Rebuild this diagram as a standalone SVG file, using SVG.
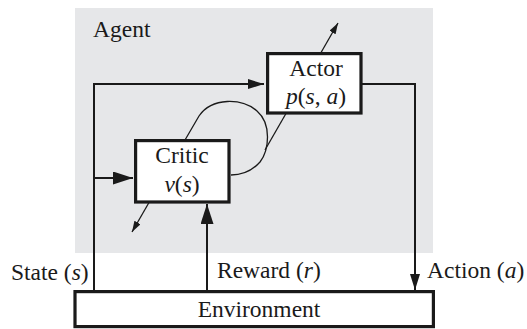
<svg xmlns="http://www.w3.org/2000/svg" width="527" height="329" viewBox="0 0 527 329">
  <defs>
    <marker id="head" viewBox="0 0 16 10" refX="16" refY="5" markerWidth="16" markerHeight="10" markerUnits="userSpaceOnUse" orient="auto">
      <path d="M0,0 L16,5 L0,10 Z" fill="#1a1a1a"/>
    </marker>
    <marker id="headBig" viewBox="0 0 20 13" refX="20" refY="6.5" markerWidth="20" markerHeight="13" markerUnits="userSpaceOnUse" orient="auto">
      <path d="M0,0 L20,6.5 L0,13 Z" fill="#1a1a1a"/>
    </marker>
    <marker id="headSmall" viewBox="0 0 11 7" refX="11" refY="3.5" markerWidth="11" markerHeight="7" markerUnits="userSpaceOnUse" orient="auto">
      <path d="M0,0 L11,3.5 L0,7 Z" fill="#1a1a1a"/>
    </marker>
  </defs>
  <style>
    text { font-family: "Liberation Serif", "Times New Roman", serif; font-size: 23.5px; fill: #1a1a1a; }
    .it { font-style: italic; }
    .mid { text-anchor: middle; }
    .box { fill: #ffffff; stroke: #1a1a1a; stroke-width: 3.2; }
    .wire { fill: none; stroke: #1a1a1a; stroke-width: 2; }
    .thin { fill: none; stroke: #1a1a1a; stroke-width: 1.3; }
  </style>

  <!-- agent region -->
  <rect x="75" y="8" width="358" height="245" fill="#e6e7e9"/>
  <text x="93" y="37">Agent</text>

  <!-- connectors -->
  <g id="connectors">
    <!-- state feeding actor and critic -->
    <polyline class="wire" points="94,291 94,84 264,84" marker-end="url(#head)"/>
    <line class="wire" x1="94" y1="178" x2="133" y2="178" marker-end="url(#headBig)"/>
    <!-- reward into critic -->
    <line class="wire" x1="207" y1="291" x2="207" y2="204" marker-end="url(#headBig)"/>
    <!-- action to environment -->
    <polyline class="wire" points="362,84 415,84 415,290" marker-end="url(#head)"/>
    <!-- critic weight line and TD error loop -->
    <line class="thin" x1="185" y1="140" x2="132" y2="232" marker-end="url(#headSmall)"/>
    <path class="thin" d="M185,140 L199,116 C212,97 242,98 257,111 C272,124 269,150 260,162 C252,171 243,175 231,175"/>
    <!-- actor weight line -->
    <line class="thin" x1="265" y1="150" x2="338" y2="23" marker-end="url(#headSmall)"/>
  </g>

  <g id="actor">
    <rect class="box" x="267.6" y="53.6" width="93.4" height="59.4"/>
    <text class="mid" x="316" y="76">Actor</text>
    <text class="mid" x="316" y="104"><tspan class="it">p</tspan>(<tspan class="it">s</tspan>, <tspan class="it">a</tspan>)</text>
  </g>

  <g id="critic">
    <rect class="box" x="135.6" y="140.6" width="93.4" height="61.4"/>
    <text class="mid" x="182" y="163">Critic</text>
    <text class="mid" x="182" y="192"><tspan class="it">v</tspan>(<tspan class="it">s</tspan>)</text>
  </g>

  <g id="environment">
    <rect class="box" x="75" y="291.6" width="358.4" height="35"/>
    <text class="mid" x="259" y="317">Environment</text>
  </g>

  <!-- signal labels -->
  <text x="11" y="280">State (<tspan class="it">s</tspan>)</text>
  <text x="217" y="278">Reward (<tspan class="it">r</tspan>)</text>
  <text x="427" y="278">Action (<tspan class="it">a</tspan>)</text>
</svg>
